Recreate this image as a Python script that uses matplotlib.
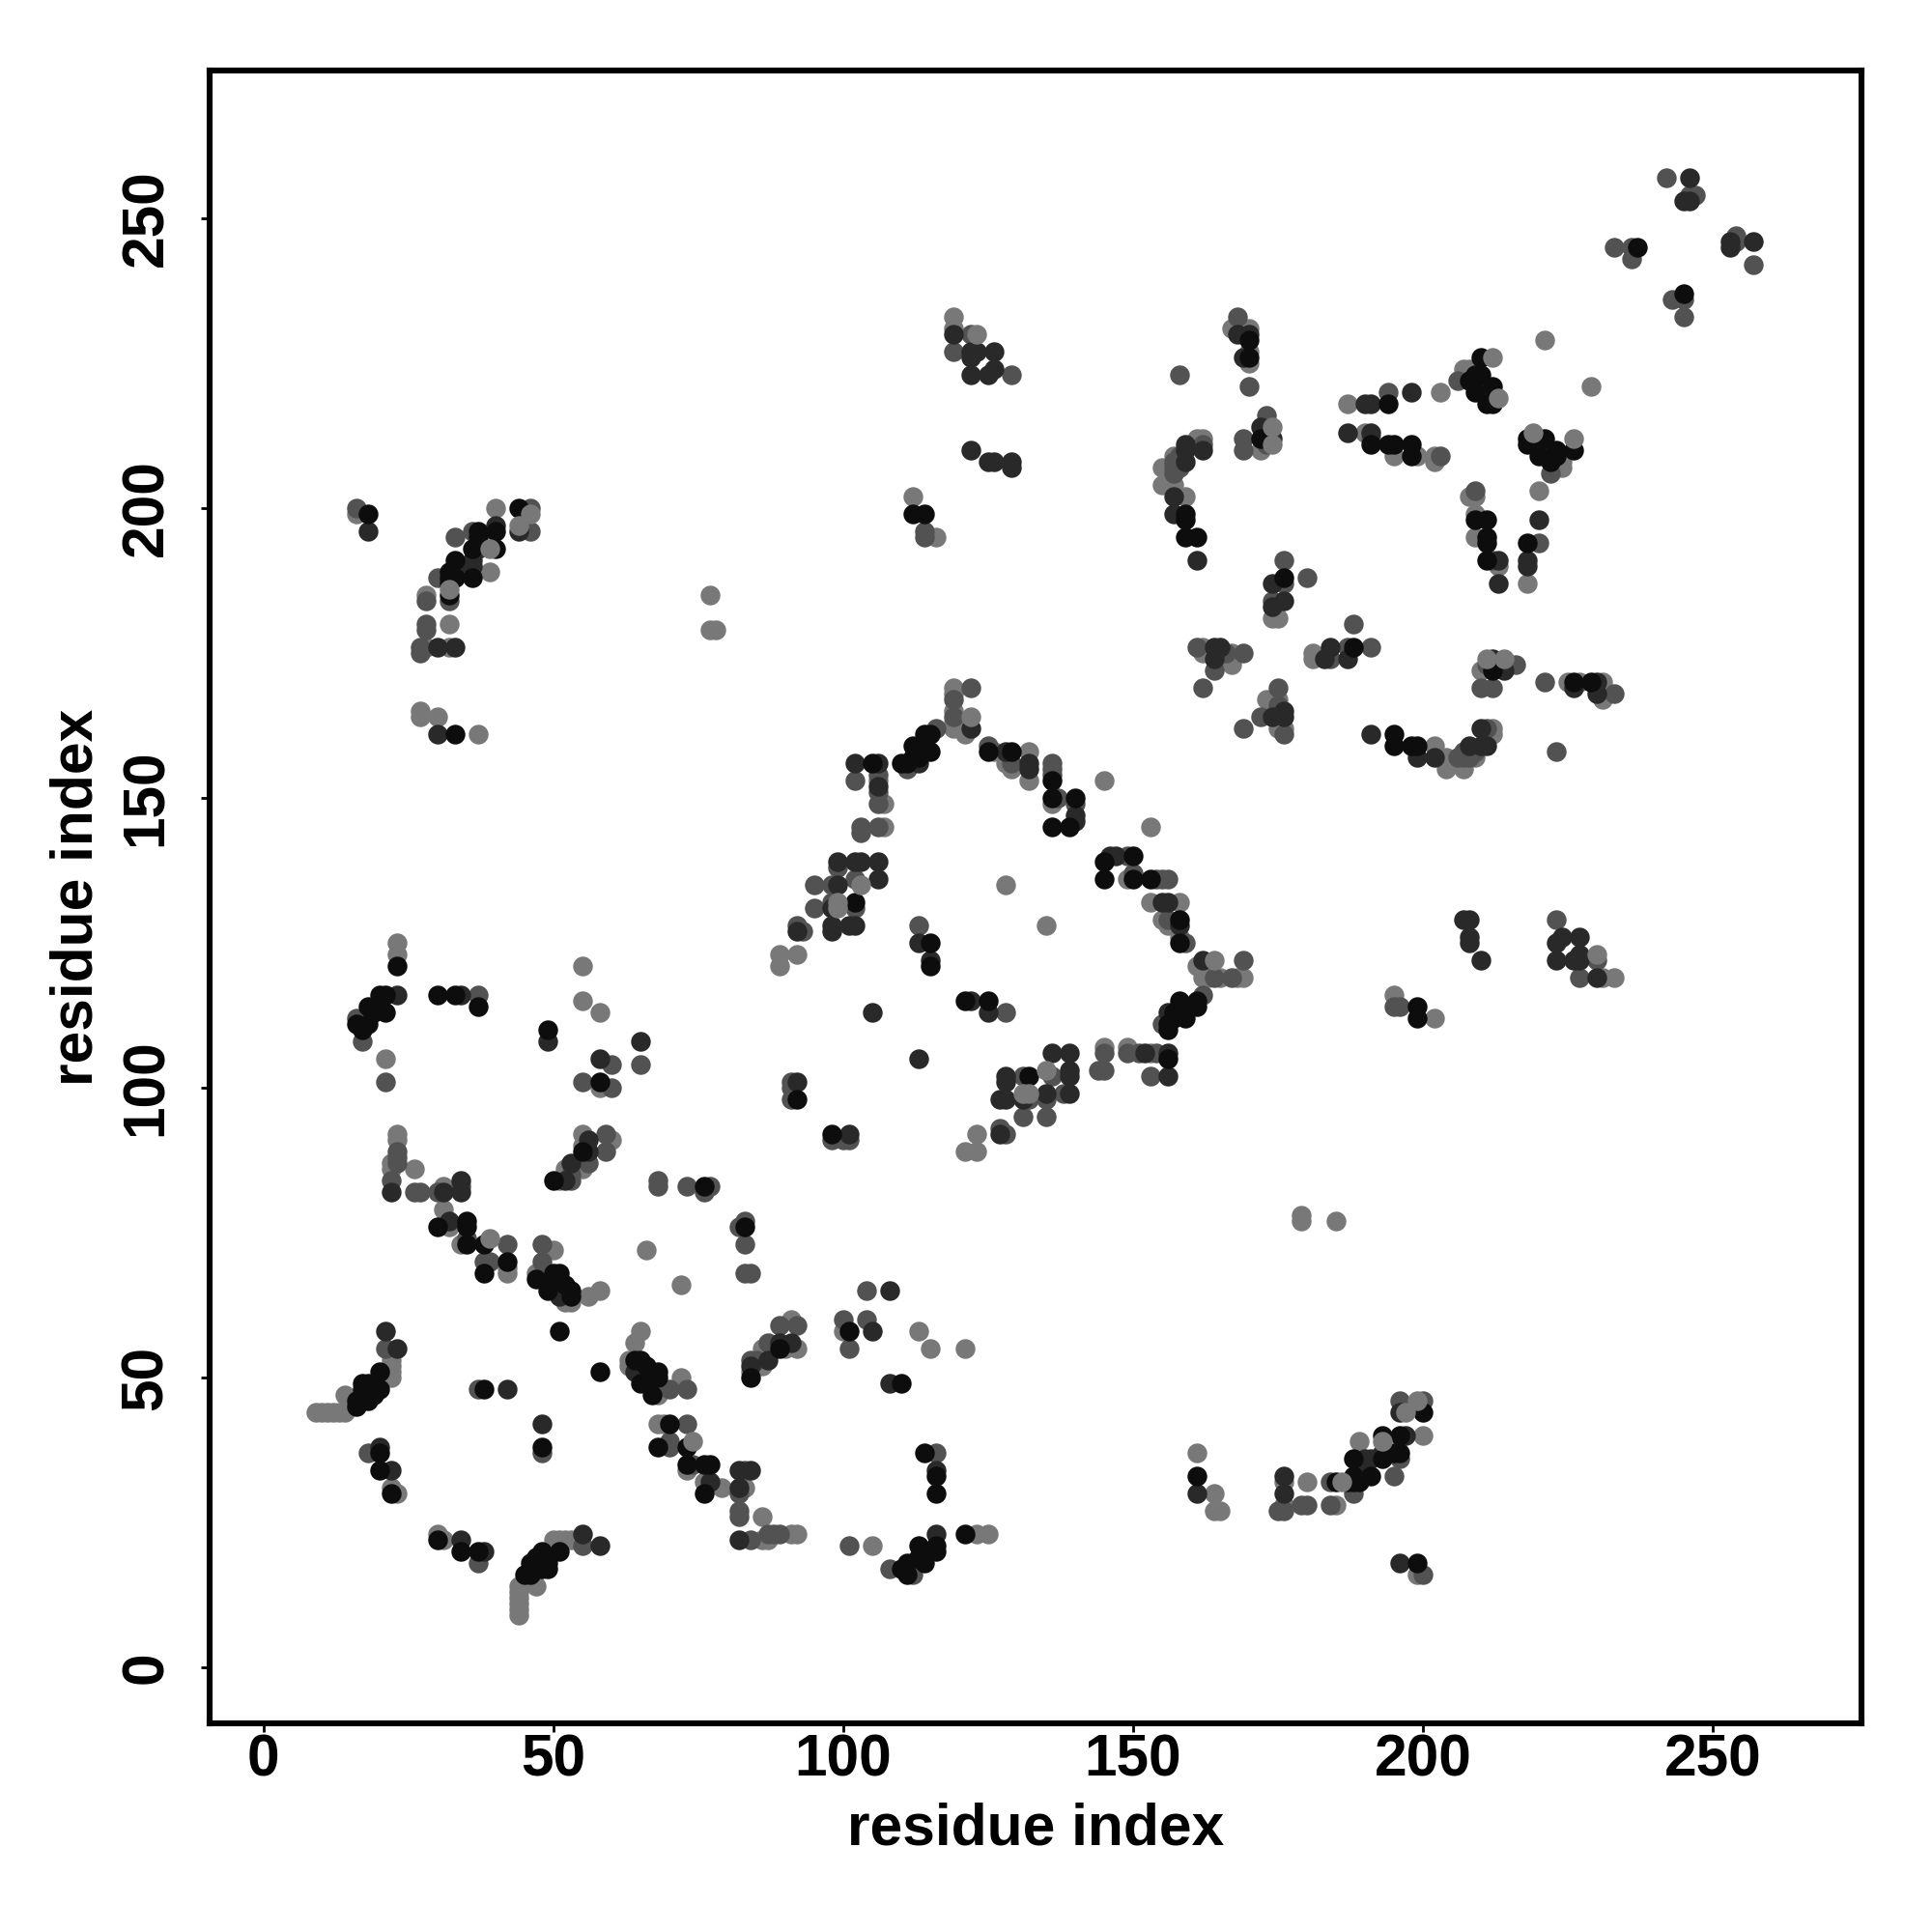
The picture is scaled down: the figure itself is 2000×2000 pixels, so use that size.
import matplotlib
matplotlib.use("Agg")
import matplotlib.pyplot as plt

ticks = [0, 50, 100, 150, 200, 250]
xlabel = "residue index"
ylabel = "residue index"

light = [(9,44),(10,44),(11,44),(12,44),(13,44),(14,44),(14,47),(22,50),(22,51),(22,52),(22,53),(22,31),(23,30),
 (50,72),(47,68),(52,63),(53,63),(56,64),(58,65),(23,125),(23,123),(21,105),(55,121),(55,115),(58,113),(58,100),
 (23,92),(23,91),(22,87),(22,86),(26,86),(31,83),(31,79),(32,76),(34,73),(42,68),(42,69),(60,91),(55,92),(55,90),
 (55,86),(52,86),(51,84),(66,72),(16,199),(40,200),(45,197),(39,189),(28,185),(32,180),(28,176),(32,176),
 (27,165),(27,164),(30,164),(37,161),(77,185),(77,179),(78,179),(119,169),(119,165),(119,163),(119,162),(121,161),
 (106,153),(107,149),(107,145),(89,123),(89,121),(92,123),(128,135),(126,158),(132,158),(128,156),(129,155),
 (132,153),(136,149),(145,153),(116,195),(112,202),(119,233),(119,231),(167,231),(169,231),(170,231),(170,227),
 (170,225),(172,210),(187,218),(203,220),(190,213),(195,209),(199,209),(202,209),(202,208),(162,212),(161,212),
 (157,209),(155,207),(155,204),(157,204),(159,202),(174,181),(175,181),(162,176),(162,175),(167,175),(167,173),
 (207,224),(208,224),(221,229),(119,168)]
medium = [(21,55),(18,37),(37,48),(48,73),(48,70),(51,66),(17,108),(16,112),(21,101),(55,101),(60,104),(60,100),(65,104),
 (37,116),(23,89),(23,88),(23,87),(22,84),(26,82),(27,82),(30,82),(34,83),(42,73),(38,70),(39,70),(59,92),(59,89),
 (56,87),(53,85),(53,84),(68,84),(68,83),(73,83),(77,83),(76,82),(35,74),(16,200),(46,200),(46,196),(36,196),(33,195),
 (30,188),(28,184),(32,184),(28,180),(28,179),(27,176),(27,175),(122,169),(119,167),(119,164),(116,162),(102,153),
 (106,154),(106,151),(106,149),(103,145),(103,144),(106,145),(99,138),(102,136),(95,135),(98,135),(102,131),(98,132),
 (95,131),(92,128),(93,127),(113,128),(91,100),(91,101),(91,98),(125,159),(129,156),(136,156),(136,155),(136,154),
 (140,149),(137,150),(111,155),(114,196),(114,195),(122,230),(119,227),(129,223),(158,223),(168,233),(170,221),
 (173,216),(173,211),(169,212),(169,210),(191,212),(194,220),(203,209),(158,209),(157,208),(158,207),(157,207),
 (157,206),(162,211),(176,191),(180,188),(176,187),(174,184),(161,176),(166,175),(169,175),(164,172),(162,169),
 (206,222),(233,245),(236,245),(236,243),(242,257),(247,254),(246,254)]
dark = [(21,58),(42,48),(20,38),(22,34),(22,82),(31,82),(34,84),(34,82),(32,77),(52,65),(51,64),(23,55),(23,116),
 (34,116),(49,108),(65,108),(58,105),(56,91),(56,89),(53,87),(52,84),(18,196),(44,196),(40,197),(37,193),(36,191),
 (36,190),(33,189),(30,176),(33,176),(30,161),(122,162),(113,156),(102,156),(106,156),(106,152),(99,139),(102,139),
 (103,139),(106,139),(106,136),(99,135),(98,131),(98,128),(98,127),(101,128),(102,128),(92,127),(92,101),(113,125),
 (115,122),(105,113),(128,158),(132,156),(132,155),(140,147),(140,146),(129,207),(129,208),(126,208),(125,208),
 (122,210),(125,223),(122,223),(126,224),(126,227),(123,227),(122,226),(122,227),(119,230),(168,230),(170,230),
 (169,226),(172,214),(174,212),(190,218),(191,218),(198,220),(187,213),(191,213),(162,210),(159,211),(159,210),
 (157,202),(157,199),(161,191),(159,208),(176,184),(174,187),(174,183),(164,176),(165,176),(164,174),(210,221),
 (211,220),(246,257),(245,253),(246,253)]
black = [(16,46),(17,46),(18,46),(17,49),(18,49),(19,49),(20,48),(20,51),(17,48),(18,48),(19,48),(18,47),(19,47),
 (17,47),(16,45),(20,37),(20,34),(22,30),(38,48),(51,58),(47,67),(50,68),(51,68),(49,66),(52,66),(49,65),(53,65),
 (53,64),(20,116),(21,116),(23,121),(18,114),(20,114),(21,113),(19,113),(16,111),(18,111),(17,110),(30,116),
 (33,116),(37,114),(49,110),(58,101),(35,77),(35,76),(30,76),(38,73),(35,73),(42,70),(38,68),(55,89),(50,84),(76,83),
 (18,199),(44,200),(40,196),(37,196),(37,195),(40,193),(36,193),(33,191),(32,189),(32,188),(33,188),(36,188),
 (32,187),(32,185),(33,161),(115,161),(114,161),(115,158),(112,159),(110,156),(112,157),(114,158),(105,156),
 (102,132),(115,125),(115,121),(92,98),(125,158),(129,158),(136,153),(136,150),(140,150),(136,145),(139,145),
 (111,156),(113,158),(113,157),(112,199),(114,199),(170,229),(170,226),(172,212),(194,218),(191,211),(194,211),
 (195,211),(198,211),(198,209),(159,199),(159,198),(159,195),(161,195),(176,188),(237,245),(210,226),(209,223),
 (210,223),(208,222),(212,221),(209,220),(211,218),(212,218)]
top_light = [(39,74),(32,186),(39,193),(99,132),(99,131),(103,135),(122,164),(123,230),(46,199),(44,197),
 (174,214),(174,211),(212,226),(213,219)]

plt.rcParams["font.family"] = ["Liberation Sans", "DejaVu Sans"]
plt.rcParams["font.weight"] = "bold"
fig = plt.figure(figsize=(10, 10), dpi=200)
ax = fig.add_axes([216.5/2000, 1-1784/2000, (1927-216.5)/2000, (1784-73)/2000])

for pts, g in ((light, 0.47), (medium, 0.32), (dark, 0.16), (black, 0.05), (top_light, 0.47)):
    xs = [p[0] for p in pts] + [p[1] for p in pts]
    ys = [p[1] for p in pts] + [p[0] for p in pts]
    ax.scatter(xs, ys, s=54, c=[(g, g, g)], linewidths=0, zorder=3)

ax.set_xlim(-9.4, 275.67)
ax.set_ylim(-9.67, 275.5)
ax.set_xticks(ticks)
ax.set_yticks(ticks)
ax.tick_params(axis="x", length=3.4, width=1.0, labelsize=21.8, pad=0.3)
ax.tick_params(axis="y", length=3.4, width=1.0, labelsize=21.8, pad=9.4)
for t in ax.get_yticklabels():
    t.set_rotation(90)
    t.set_va("center")
for s in ax.spines.values():
    s.set_linewidth(2.2)
ax.set_xlabel(xlabel, fontsize=21.8, fontweight="bold", labelpad=5.3)
ax.set_ylabel(ylabel, fontsize=21.8, fontweight="bold", labelpad=5.4)
fig.savefig("out.png", dpi=200)
